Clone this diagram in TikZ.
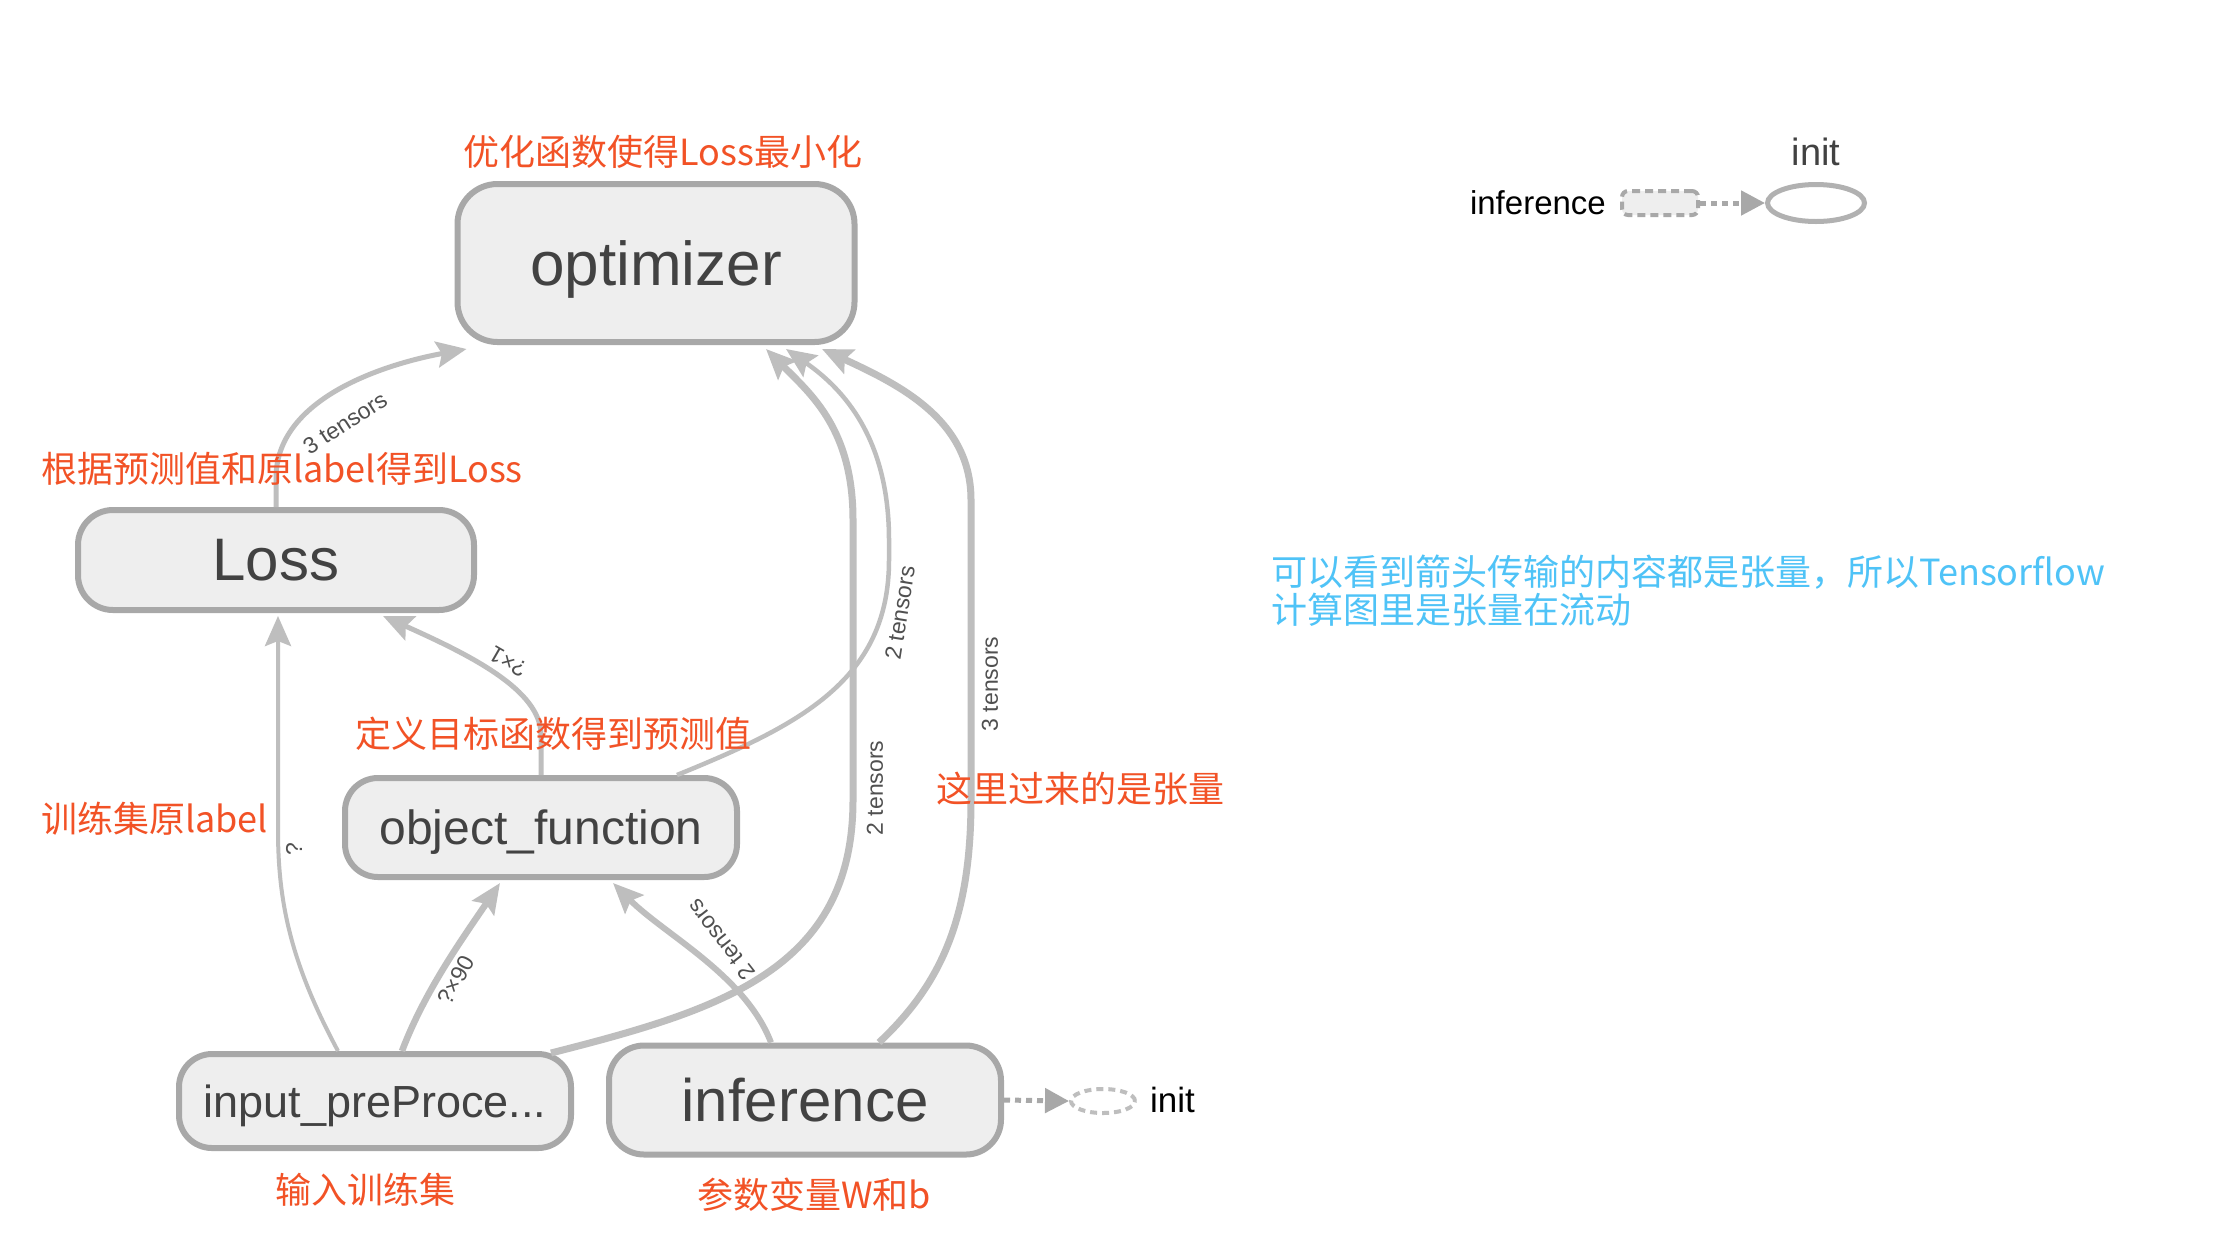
\documentclass[tikz,border=0pt]{standalone}
\usepackage{fontspec}
\setmainfont{Liberation Sans}
\newfontfamily\cjk{Noto Sans CJK SC}
\usetikzlibrary{arrows.meta,shapes.geometric,calc}
\definecolor{boxgray}{RGB}{168,168,168}
\definecolor{boxfill}{RGB}{238,238,238}
\definecolor{edgegray}{RGB}{190,190,190}
\definecolor{nodetext}{RGB}{66,66,66}
\definecolor{labgray}{RGB}{80,80,80}
\definecolor{notered}{RGB}{242,82,38}
\definecolor{noteblue}{RGB}{79,195,247}
\begin{document}
\begin{tikzpicture}[x=1pt,y=-1pt,
  box/.style={draw=boxgray, line width=6pt, fill=boxfill, rounded corners=35pt, text=nodetext, inner sep=0pt},
  edge/.style={draw=edgegray, -{Stealth[length=30pt,width=26pt,inset=5pt]}},
  elab/.style={font=\fontsize{23}{23}\selectfont, text=labgray, inner sep=0pt},
  note/.style={font=\cjk\fontsize{36}{38}\selectfont, text=notered, inner sep=0pt},
  dotarrow/.style={draw=boxgray, line width=5pt, dash pattern=on 6pt off 5pt, -{Triangle[length=24pt,width=24pt]}}
]
\useasboundingbox[fill=white] (0,0) rectangle (2226,1254);

% main nodes
\node[box, rounded corners=40pt, minimum width=397pt, minimum height=158pt, text depth=0pt, font=\fontsize{62}{62}\selectfont] (opt) at (656,263) {optimizer};
\node[box, minimum width=396pt, minimum height=100pt, font=\fontsize{60}{60}\selectfont] (loss) at (276,560) {Loss};
\node[box, rounded corners=33pt, minimum width=392pt, minimum height=99pt, text depth=0pt, font=\fontsize{48}{48}\selectfont] (objfn) at (541,827.5) {object\_function};
\node[box, rounded corners=33pt, minimum width=392pt, minimum height=94pt, text depth=0pt, font=\fontsize{45}{45}\selectfont] (inp) at (375,1101) {input\_preProce...};
\node[box, minimum width=392pt, minimum height=109pt, font=\fontsize{60}{60}\selectfont] (inf) at (805,1100) {inference};

% small init ellipse
\node[ellipse, draw=edgegray, line width=4pt, dash pattern=on 7pt off 5pt, minimum width=64pt, minimum height=24pt, inner sep=0pt] (smallinit) at (1103,1101) {};
\node[anchor=west, inner sep=0pt, font=\fontsize{35}{35}\selectfont] (smallinitlab) at (1150,1100) {init};

% legend
\node[draw=boxgray, line width=4pt, dash pattern=on 8pt off 5pt, fill=boxfill, rounded corners=6pt, minimum width=76pt, minimum height=24pt, inner sep=0pt] (leginf) at (1660,203) {};
\node[ellipse, draw=boxgray!90, line width=5pt, minimum width=97pt, minimum height=37pt, inner sep=0pt] (leginit) at (1816,203) {};
\node[anchor=east, inner sep=0pt, font=\fontsize{33}{33}\selectfont] (leginflab) at (1606,203) {inference};
\node[inner sep=0pt, text=nodetext, font=\fontsize{38}{38}\selectfont] (leginitlab) at (1816,152) {init};

% edge labels
\node[elab, rotate=33] (l1) at (345,423) {3 tensors};
\node[elab, rotate=150] (l2) at (508,662) {?×1};
\node[elab, rotate=90] (l3) at (294,849) {?};
\node[elab, rotate=62] (l4) at (456,980) {?×90};
\node[elab, rotate=128] (l5) at (721,940) {2 tensors};
\node[elab, rotate=90] (l6) at (875,788) {2 tensors};
\node[elab, rotate=81] (l7) at (900,613) {2 tensors};
\node[elab, rotate=90] (l8) at (990,684) {3 tensors};

% edges
\draw[edge, line width=5pt] (loss.north) -- (276,478) .. controls (276,400) and (380,365) .. ($(opt.south west)+(12,4)$);
\draw[edge, line width=5pt] (objfn.north) -- (541,735) .. controls (541,690) and (470,655) .. ($(loss.south)+(107,3)$);
\draw[edge, line width=4pt] ($(inp.north)+(-37,0)$) .. controls (292,965) and (278,905) .. (278,830) -- ($(loss.south)+(2,3)$);
\draw[edge, line width=6.5pt] ($(inp.north)+(27,0)$) .. controls (425,990) and (465,935) .. ($(objfn.south)+(-41,3)$);
\draw[edge, line width=6pt] ($(inf.north)+(-34,0)$) .. controls (745,975) and (665,935) .. ($(objfn.south)+(72,3)$);
\draw[edge, line width=7pt] ($(inp.north east)+(-23,2)$) .. controls (720,1010) and (853,970) .. (853,800) -- (853,520) .. controls (853,430) and (812,395) .. ($(opt.south)+(110,4)$);
\draw[edge, line width=4.5pt] ($(objfn.north east)+(-63,0)$) .. controls (800,725) and (889,680) .. (889,560) -- (889,540) .. controls (889,440) and (845,390) .. ($(opt.south)+(130,4)$);
\draw[edge, line width=7pt] ($(inf.north east)+(-125,0)$) .. controls (940,985) and (971,920) .. (971,800) -- (971,500) .. controls (971,420) and (900,385) .. ($(opt.south)+(166,4)$);

\draw[dotarrow] (inf.east) -- (smallinit.west);
\draw[dotarrow] (leginf.east) -- (leginit.west);

% annotations
\node[note] (n1) at (663,152) {优化函数使得Loss最小化};
\node[note, anchor=west] (n2) at (41,469) {根据预测值和原label得到Loss};
\node[note, anchor=west] (n3) at (355,734) {定义目标函数得到预测值};
\node[note, anchor=west] (n4) at (41,819) {训练集原label};
\node[note, anchor=west] (n5) at (936,789) {这里过来的是张量};
\node[note] (n6) at (365,1190) {输入训练集};
\node[note] (n7) at (814,1195) {参数变量W和b};
\node[note, text=noteblue, anchor=west, align=left] (n8) at (1271,591) {可以看到箭头传输的内容都是张量，所以Tensorflow\\计算图里是张量在流动};
\end{tikzpicture}
\end{document}
